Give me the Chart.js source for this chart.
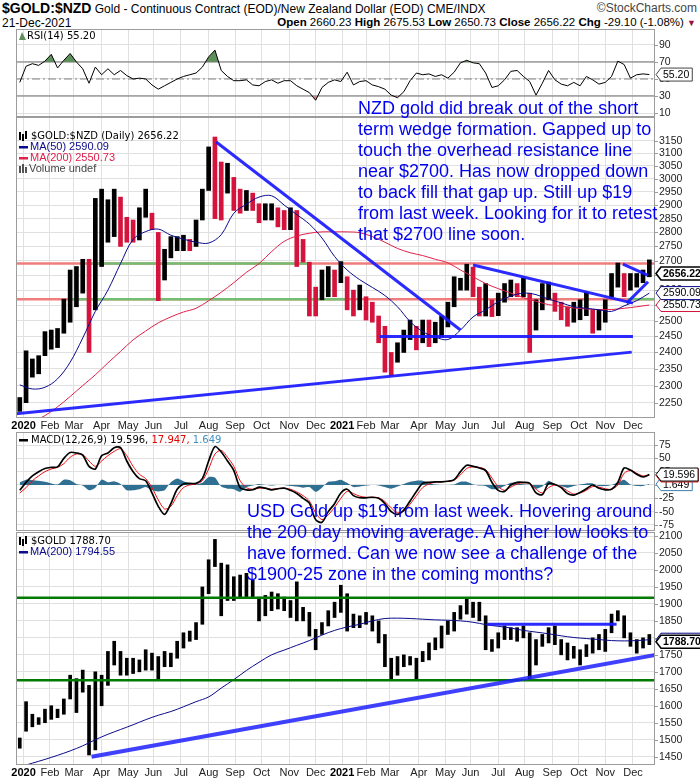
<!DOCTYPE html>
<html>
<head>
<meta charset="utf-8">
<script src="https://cdn.jsdelivr.net/npm/chart.js@4.4.1/dist/chart.umd.min.js"></script>
<style>
  body { margin: 0; background: #fff; }
  #page { position: relative; width: 700px; height: 780px; overflow: hidden; font-family: "Liberation Sans", Arial, sans-serif; }
  .panel { position: absolute; left: 0; width: 700px; }
  .hdr { position: absolute; white-space: nowrap; font-size: 12px; color: #000; }
  .note { position: absolute; white-space: nowrap; color: #0000f0; font-size: 18px; line-height: 21px; }
</style>
</head>
<body>
<div id="page">
  <div class="hdr" style="left:2px;top:0px;"><b style="font-size:14px">$GOLD:$NZD</b> Gold - Continuous Contract (EOD)/New Zealand Dollar (EOD) CME/INDX</div>
  <div class="hdr" style="right:3px;top:1px;color:#444;">&copy;StockCharts.com</div>
  <div class="hdr" style="left:2px;top:16px;">21-Dec-2021</div>
  <div class="hdr" style="right:4px;top:16px;font-size:11.5px;"><b>Open</b> 2660.23 <b>High</b> 2675.53 <b>Low</b> 2650.73 <b>Close</b> 2656.22 <b>Chg</b> -29.10 (-1.08%) <span style="color:#a0103a;font-size:9px">&#9660;</span></div>

  <div class="panel" style="top:29px;height:88px;"><canvas id="rsiChart"></canvas></div>
  <div class="panel" style="top:117px;height:315px;"><canvas id="nzdChart"></canvas></div>
  <div class="panel" style="top:432px;height:99px;"><canvas id="macdChart"></canvas></div>
  <div class="panel" style="top:531px;height:249px;"><canvas id="usdChart"></canvas></div>

  <div class="note" style="left:358px;top:98px;">NZD gold did break out of the short<br>term wedge formation. Gapped up to<br>touch the overhead resistance line<br>near $2700. Has now dropped down<br>to back fill that gap up. Still up $19<br>from last week. Looking for it to retest<br>that $2700 line soon.</div>
  <div class="note" style="left:247px;top:501px;">USD Gold up $19 from last week. Hovering around<br>the 200 day moving average. A higher low looks to<br>have formed. Can we now see a challenge of the<br>$1900-25 zone in the coming months?</div>
</div>

<script>
// x axis is counted in trading days from 2 Jan 2020
const monthDays = [0, 21, 40, 62, 83, 103, 125, 147, 168, 189, 211, 232, 253, 272, 291, 314, 335, 355, 377, 398, 420, 441, 462, 484];
const monthLabels = ['2020', 'Feb', 'Mar', 'Apr', 'May', 'Jun', 'Jul', 'Aug', 'Sep', 'Oct', 'Nov', 'Dec',
                     '2021', 'Feb', 'Mar', 'Apr', 'May', 'Jun', 'Jul', 'Aug', 'Sep', 'Oct', 'Nov', 'Dec'];

// weekly ranges, one entry per week
const nzdLow = [2225, 2250, 2325, 2335, 2390, 2410, 2415, 2460, 2495, 2545,
  2590, 2400, 2535, 2680, 2765, 2785, 2750, 2765, 2765, 2773,
  2855, 2810, 2565, 2634, 2710, 2735, 2735, 2735, 2750, 2845,
  2955, 2850, 2845, 2945, 2880, 2870, 2880, 2880, 2835, 2845,
  2845, 2820, 2810, 2810, 2680, 2695, 2515, 2515, 2568, 2578,
  2578, 2625, 2535, 2515, 2535, 2502, 2495, 2430, 2340, 2330,
  2370, 2400, 2440, 2408, 2430, 2418, 2430, 2448, 2480, 2545,
  2600, 2600, 2578, 2515, 2515, 2513, 2516, 2560, 2578, 2578,
  2578, 2400, 2470, 2535, 2568, 2530, 2503, 2482, 2495, 2503,
  2516, 2460, 2470, 2495, 2578, 2610, 2578, 2600, 2610, 2625,
  2645];
const nzdHigh = [2265, 2405, 2380, 2390, 2465, 2470, 2475, 2570, 2668, 2680,
  2705, 2705, 2925, 2960, 2920, 2960, 2930, 2855, 2845, 2890,
  2960, 2870, 2800, 2740, 2785, 2785, 2790, 2775, 2845, 2960,
  3125, 3165, 3065, 3060, 3005, 2960, 2955, 2945, 2905, 2905,
  2905, 2890, 2880, 2890, 2880, 2775, 2695, 2610, 2668, 2680,
  2668, 2697, 2645, 2600, 2617, 2578, 2560, 2515, 2482, 2400,
  2430, 2470, 2502, 2482, 2502, 2502, 2495, 2515, 2560, 2645,
  2640, 2688, 2678, 2610, 2622, 2568, 2590, 2622, 2634, 2622,
  2640, 2590, 2568, 2622, 2627, 2590, 2560, 2545, 2560, 2568,
  2593, 2535, 2535, 2568, 2656, 2692, 2656, 2656, 2656, 2668,
  2703];

const usdLow = [1475, 1525, 1538, 1545, 1550, 1560, 1565, 1575, 1620, 1580,
  1640, 1455, 1470, 1600, 1660, 1720, 1690, 1690, 1695, 1700,
  1705, 1705, 1675, 1715, 1715, 1740, 1770, 1790, 1795, 1840,
  1930, 2010, 1865, 1910, 1910, 1920, 1920, 1920, 1850, 1865,
  1880, 1885, 1880, 1860, 1850, 1850, 1805, 1765, 1810, 1835,
  1860, 1875, 1820, 1830, 1830, 1840, 1820, 1785, 1715, 1675,
  1690, 1715, 1720, 1676, 1730, 1735, 1765, 1770, 1810, 1820,
  1855, 1870, 1860, 1850, 1765, 1760, 1770, 1795, 1795, 1790,
  1800, 1680, 1720, 1775, 1785, 1780, 1750, 1735, 1740, 1720,
  1745, 1755, 1765, 1760, 1815, 1850, 1800, 1775, 1755, 1770,
  1780];
const usdHigh = [1505, 1612, 1575, 1565, 1590, 1600, 1590, 1620, 1690, 1680,
  1705, 1660, 1700, 1690, 1760, 1790, 1760, 1740, 1740, 1735,
  1765, 1755, 1745, 1760, 1755, 1790, 1815, 1820, 1845, 1950,
  2030, 2090, 2020, 2015, 1980, 1985, 1990, 1970, 1920, 1925,
  1935, 1930, 1920, 1910, 1965, 1890, 1875, 1825, 1845, 1880,
  1905, 1955, 1930, 1870, 1865, 1875, 1865, 1850, 1810, 1740,
  1745, 1750, 1745, 1740, 1760, 1785, 1800, 1835, 1850, 1875,
  1895, 1915, 1905, 1905, 1865, 1795, 1815, 1835, 1830, 1830,
  1835, 1815, 1795, 1810, 1830, 1835, 1795, 1785, 1775, 1765,
  1780, 1800, 1810, 1825, 1870, 1880, 1865, 1815, 1795, 1800,
  1810];

// moving averages, one entry every two weeks
const nzdMa50 = [2302, 2290, 2295, 2320, 2370, 2445, 2530, 2600, 2690, 2775,
  2803, 2812, 2790, 2776, 2765, 2762, 2792, 2870, 2903, 2930,
  2935, 2900, 2865, 2830, 2780, 2715, 2668, 2635, 2609, 2582,
  2545, 2497, 2465, 2448, 2440, 2470, 2512, 2535, 2562, 2580,
  2590, 2585, 2570, 2558, 2545, 2540, 2535, 2530, 2548, 2565,
  2590.09];
const nzdMa200 = [2185, 2197, 2213, 2238, 2268, 2300, 2332, 2368, 2403, 2439,
  2467, 2493, 2512, 2528, 2540, 2565, 2593, 2625, 2660, 2690,
  2732, 2768, 2787, 2797, 2802, 2802, 2802, 2799, 2785, 2765,
  2743, 2728, 2718, 2705, 2693, 2668, 2645, 2622, 2605, 2590,
  2575, 2563, 2552, 2547, 2541, 2538, 2536, 2536, 2540, 2545,
  2550.73];
const usdMa200 = [1420, 1431, 1442, 1454, 1467, 1482, 1500, 1516, 1530, 1544,
  1559, 1572, 1583, 1597, 1612, 1626, 1652, 1677, 1704, 1728,
  1750, 1764, 1778, 1792, 1808, 1822, 1832, 1840, 1850, 1857,
  1858, 1857, 1855, 1853, 1852, 1850, 1846, 1839, 1834, 1829,
  1822, 1817, 1812, 1806, 1801, 1798, 1795, 1792, 1791, 1792,
  1794.55];

// weekly indicator readings
const rsiValues = [46, 65, 68, 66, 71, 79, 63, 72, 80, 70,
  62, 45, 64, 55, 62, 55, 60, 54, 50, 51,
  50, 43, 38, 42, 46, 50, 53, 55, 57, 64,
  76, 84, 60, 53, 48, 48, 49, 43, 42, 47,
  49, 45, 48, 48, 42, 38, 34, 25, 40, 46,
  49, 47, 58, 43, 47, 48, 43, 41, 38, 31,
  28, 35, 48, 57, 55, 56, 53, 55, 51, 58,
  69, 72, 69, 68, 57, 40, 42, 49, 59, 60,
  53, 47, 31, 45, 60, 49, 44, 42, 46, 42,
  53, 49, 44, 46, 53, 71, 67, 51, 55, 56,
  55.2];
const macdValues = [-10, 5, 17, 25, 31, 33, 34, 50, 61, 60,
  56, 35, 30, 55, 60, 70, 70, 45, 25, 12,
  8, -15, -40, -55, -35, -8, 2, 3, 3, 12,
  45, 72, 62, 45, 27, -5, -9, -9, -4, -6,
  -9, -7, -6, -10, -16, -25, -34, -65, -70, -50,
  -35, -15, -8, -20, -24, -24, -23, -25, -35, -50,
  -55, -47, -30, -12, 3, 5, 6, 6, 7, 10,
  25, 37, 35, 32, 27, 5, -10, -12, 0, 5,
  5, 3, -15, -18, 3, 1, -5, -16, -19, -14,
  -7, 0, -6, -9, -8, 5, 32, 28, 20, 15,
  19.596];
const signalValues = [-15, -5, 8, 17, 25, 30, 33, 40, 52, 58,
  57, 45, 35, 45, 55, 63, 68, 55, 35, 20,
  12, -5, -28, -45, -40, -20, -5, 0, 2, 8,
  30, 58, 65, 52, 35, 8, -5, -8, -6, -6,
  -8, -7, -6, -8, -13, -20, -30, -52, -65, -56,
  -42, -25, -12, -16, -21, -23, -23, -24, -31, -43,
  -52, -49, -36, -20, -5, 2, 5, 6, 7, 9,
  19, 31, 34, 33, 29, 13, -3, -10, -4, 2,
  4, 3, -8, -15, -5, 0, -3, -11, -17, -15,
  -10, -3, -4, -7, -8, 0, 22, 27, 22, 17,
  17.947];
const histValues = [5, 10, 9, 8, 6, 3, 1, 10, 9, 2,
  -1, -10, -5, 10, 5, 7, 2, -10, -10, -8,
  -4, -10, -12, -10, 5, 12, 7, 3, 1, 4,
  15, 14, -3, -7, -8, -13, -4, -1, 2, 0,
  -1, 0, 0, -2, -3, -5, -4, -13, -5, 6,
  7, 10, 4, -4, -3, -1, 0, -1, -4, -7,
  -3, 2, 6, 8, 8, 3, 1, 0, 0, 1,
  6, 6, 1, -1, -2, -8, -7, -2, 4, 3,
  1, 0, -7, -3, 8, 1, -2, -5, -2, 1,
  3, 3, -2, -2, 0, 5, 10, 1, -2, -2,
  1.649];

// drawn trend lines and levels: [trading day, price]
const nzdDownTrend = [[153, 3145], [347, 2470]];
const nzdWedgeTop = [[357, 2685], [484, 2557]];
const nzdSupport = [[283, 2450], [484, 2450]];
const nzdUpTrend = [[-6, 2218], [483, 2401]];
const nzdFlagTop = [[476, 2688], [496, 2650]];
const nzdFlagBottom = [[479, 2557], [496, 2628]];
const nzdLevels = [2690, 2570];
const usdUpTrend = [[54, 1450], [502, 1750]];
const usdRange = [[368, 1840], [471, 1840]];
const usdLevels = [1918, 1675];

const rsiTicks = [10, 30, 50, 70, 90];
const nzdTicks = [2250, 2300, 2350, 2400, 2450, 2500, 2550, 2600, 2650, 2700, 2750, 2800, 2850, 2900, 2950, 3000, 3050, 3100, 3150];
const macdTicks = [-75, -50, -25, 0, 25, 50, 75];
const usdTicks = [1450, 1500, 1550, 1600, 1650, 1700, 1750, 1800, 1850, 1900, 1950, 2000, 2050, 2100];

const xMin = -6, xMax = 501.5;
const weekDay = i => 5 * i - 3;
const maDay = k => 10 * k - 3;
const pts = (vals, dayOf) => vals.map((v, i) => ({ x: dayOf(i), y: v }));
const seg = pairs => pairs.map(([x, y]) => ({ x, y }));
const level = (v, from, to) => [{ x: from, y: v }, { x: to, y: v }];

const line = (data, color, width, order, extra) => Object.assign({
  type: 'line', data, borderColor: color, borderWidth: width, pointRadius: 0,
  fill: false, tension: 0, order
}, extra || {});

const RED = '#d4143c', NAVY = '#0a0a8c', BLUE = 'rgba(25,25,255,0.92)', GRID = '#e0e0e0';

function xScale() {
  return {
    type: 'linear', min: xMin, max: xMax, offset: false,
    afterBuildTicks: s => { s.ticks = monthDays.map(v => ({ value: v })); },
    ticks: { display: false },
    grid: { color: GRID, drawTicks: false, offset: false },
    border: { display: false },
    afterFit: s => { s.height = 0; }
  };
}

function yScale(type, min, max, ticks) {
  return {
    type, position: 'right', min, max,
    afterBuildTicks: s => { s.ticks = ticks.map(v => ({ value: v })); },
    ticks: { display: false },
    grid: { color: GRID, drawTicks: false },
    border: { display: false },
    afterFit: s => { s.width = 45; }
  };
}

function drawTag(ctx, x, y, t) {
  ctx.font = (t.bold ? 'bold ' : '') + '10.5px "Liberation Sans", Arial, sans-serif';
  const w = ctx.measureText(t.text).width + 5;
  ctx.beginPath();
  ctx.moveTo(x + 1, y);
  ctx.lineTo(x + 6, y - 6.5);
  ctx.lineTo(x + 6 + w, y - 6.5);
  ctx.lineTo(x + 6 + w, y + 6.5);
  ctx.lineTo(x + 6, y + 6.5);
  ctx.closePath();
  ctx.fillStyle = '#fff';
  ctx.fill();
  ctx.lineWidth = t.bold ? 1.6 : 1;
  ctx.strokeStyle = t.color;
  ctx.stroke();
  ctx.fillStyle = '#000';
  ctx.textAlign = 'left';
  ctx.textBaseline = 'middle';
  ctx.fillText(t.text, x + 8, y + 0.5);
}

function panelPlugin(cfg) {
  return {
    id: 'panel',
    afterDraw(chart) {
      const { ctx, chartArea: a, scales } = chart;
      ctx.save();
      ctx.strokeStyle = '#9c9c9c';
      ctx.lineWidth = 1;
      ctx.strokeRect(a.left + 0.5, a.top + 0.5, a.right - a.left - 1, a.bottom - a.top - 1);

      ctx.font = '10.5px "Liberation Sans", Arial, sans-serif';
      ctx.fillStyle = '#222';
      ctx.textAlign = 'left';
      ctx.textBaseline = 'middle';
      cfg.yTicks.forEach(v => {
        const y = Math.round(scales.y.getPixelForValue(v)) + 0.5;
        ctx.beginPath();
        ctx.moveTo(a.right, y);
        ctx.lineTo(a.right + 3, y);
        ctx.stroke();
        ctx.fillText(String(v), a.right + 4, y);
      });

      if (cfg.monthAxis) {
        ctx.textAlign = 'center';
        monthDays.forEach((d, i) => {
          const isYear = monthLabels[i].length === 4;
          ctx.font = (isYear ? 'bold ' : '') + '11px "Liberation Sans", Arial, sans-serif';
          ctx.fillStyle = isYear ? '#000' : '#222';
          ctx.fillText(monthLabels[i], scales.x.getPixelForValue(d), a.bottom + 8);
        });
      }

      cfg.tags.forEach(t => drawTag(ctx, a.right, scales.y.getPixelForValue(t.value), t));
      cfg.legend(ctx, a);
      ctx.restore();
    }
  };
}

function makeChart(id, cfg) {
  return new Chart(document.getElementById(id), {
    type: 'bar',
    data: { datasets: cfg.datasets },
    options: {
      responsive: true, maintainAspectRatio: false, animation: false, events: [],
      layout: { padding: { left: 16, right: 0, top: cfg.padTop || 0, bottom: cfg.padBottom || 0 } },
      plugins: { legend: { display: false }, tooltip: { enabled: false } },
      scales: { x: xScale(), y: yScale(cfg.yType, cfg.yMin, cfg.yMax, cfg.yTicks) }
    },
    plugins: [panelPlugin(cfg)]
  });
}

function legendText(ctx, parts, x, y, font) {
  ctx.font = font;
  ctx.textAlign = 'left';
  ctx.textBaseline = 'middle';
  parts.forEach(([text, color]) => {
    ctx.fillStyle = color;
    ctx.fillText(text, x, y);
    x += ctx.measureText(text).width;
  });
}

function legendDash(ctx, x, y, color) {
  ctx.fillStyle = color;
  ctx.fillRect(x, y - 1, 9, 2.5);
}

function candleIcon(ctx, x, y) {
  ctx.fillStyle = '#000';
  ctx.fillRect(x, y - 4, 2, 8);
  ctx.fillRect(x + 3, y - 2, 2, 7);
  ctx.fillRect(x + 6, y - 5, 2, 8);
}

const SANS = '"DejaVu Sans", sans-serif';
const LIB = '"Liberation Sans", Arial, sans-serif';

// ---------- RSI ----------
const rsiPts = pts(rsiValues, weekDay);
makeChart('rsiChart', {
  yType: 'linear', yMin: 5.3, yMax: 108.8, yTicks: rsiTicks,
  tags: [{ value: 55.2, text: '55.20', color: '#444' }],
  datasets: [
    line(rsiPts, '#000', 1, 0),
    line(level(70, xMin, xMax), '#707070', 1.2, 3),
    line(level(30, xMin, xMax), '#707070', 1.2, 3),
    line(level(50, xMin, xMax), '#808080', 1, 3, { borderDash: [8, 3, 2, 3] }),
    line(rsiPts, 'rgba(0,0,0,0)', 0, 2, { fill: { target: { value: 70 }, above: '#5f8f5a', below: 'rgba(0,0,0,0)' } }),
    line(rsiPts, 'rgba(0,0,0,0)', 0, 2, { fill: { target: { value: 30 }, above: 'rgba(0,0,0,0)', below: '#c58585' } })
  ],
  legend(ctx, a) {
    ctx.fillStyle = '#5f8f5a';
    ctx.beginPath();
    ctx.moveTo(19, a.top + 11); ctx.lineTo(22, a.top + 3); ctx.lineTo(26, a.top + 11);
    ctx.closePath(); ctx.fill();
    legendText(ctx, [['RSI(14) 55.20', '#000']], 27, a.top + 7, '10px ' + SANS);
  }
});

// ---------- NZD price ----------
const nzdColors = nzdLow.map((lo, i) => {
  if (i === 0) return '#000';
  const mid = (lo + nzdHigh[i]) / 2;
  const prev = (nzdLow[i - 1] + nzdHigh[i - 1]) / 2;
  return mid >= prev ? '#000' : RED;
});
makeChart('nzdChart', {
  yType: 'logarithmic', yMin: 2206.2, yMax: 3247.4, yTicks: nzdTicks, padBottom: 14, monthAxis: true,
  tags: [
    { value: 2550.73, text: '2550.73', color: RED },
    { value: 2590.09, text: '2590.09', color: NAVY },
    { value: 2656.22, text: '2656.22', color: '#000', bold: true }
  ],
  datasets: [
    line(seg(nzdDownTrend), BLUE, 3, 0),
    line(seg(nzdWedgeTop), BLUE, 3, 0),
    line(seg(nzdSupport), BLUE, 3, 0),
    line(seg(nzdUpTrend), BLUE, 3, 0),
    line(seg(nzdFlagTop), BLUE, 3, 0),
    line(seg(nzdFlagBottom), BLUE, 3, 0),
    line(pts(nzdMa50, maDay), NAVY, 1, 1, { tension: 0.35 }),
    line(pts(nzdMa200, maDay), '#e0204a', 1, 1, { tension: 0.35 }),
    {
      type: 'bar', order: 2, barThickness: 4, borderWidth: 0, backgroundColor: nzdColors,
      data: nzdLow.map((lo, i) => ({ x: weekDay(i), y: [lo, nzdHigh[i]] }))
    },
    line(level(nzdLevels[0], 52, 227), '#72bf72', 2.5, 3),
    line(level(nzdLevels[1], 35, 257), '#72bf72', 2.5, 3),
    line(level(nzdLevels[1], 480, xMax), '#72bf72', 2.5, 3),
    line(level(nzdLevels[0], xMin, xMax), '#f07c7c', 2.5, 4),
    line(level(nzdLevels[1], xMin, xMax), '#f07c7c', 2.5, 4)
  ],
  legend(ctx, a) {
    candleIcon(ctx, 19, a.top + 19);
    legendText(ctx, [['$GOLD:$NZD (Daily) 2656.22', '#000']], 31, a.top + 19, '10px ' + SANS);
    legendDash(ctx, 19, a.top + 30, NAVY);
    legendText(ctx, [['MA(50) 2590.09', NAVY]], 30, a.top + 30, '11px ' + LIB);
    legendDash(ctx, 19, a.top + 41, '#e0204a');
    legendText(ctx, [['MA(200) 2550.73', '#e0204a']], 30, a.top + 41, '11px ' + LIB);
    ctx.fillStyle = '#555';
    ctx.fillRect(19, a.top + 49, 2, 7); ctx.fillRect(22, a.top + 47, 2, 9); ctx.fillRect(25, a.top + 50, 2, 6);
    legendText(ctx, [['Volume undef', '#444']], 29, a.top + 52, '11px ' + LIB);
  }
});

// ---------- MACD ----------
makeChart('macdChart', {
  yType: 'linear', yMin: -86.3, yMax: 99.4, yTicks: macdTicks,
  tags: [
    { value: 1.649, text: '1.649', color: '#3f7fb0' },
    { value: 17.947, text: '17.947', color: '#e00000' },
    { value: 19.596, text: '19.596', color: '#000' }
  ],
  datasets: [
    line(pts(macdValues, weekDay), '#000', 1.7, 0, { tension: 0.3 }),
    line(pts(signalValues, weekDay), '#f01010', 1, 1, { tension: 0.3 }),
    line(pts(histValues, weekDay), 'rgba(0,0,0,0)', 0, 2, { fill: 'origin', backgroundColor: '#2e6f92', tension: 0.2 })
  ],
  legend(ctx, a) {
    legendDash(ctx, 19, a.top + 8, '#000');
    legendText(ctx, [['MACD(12,26,9) 19.596, ', '#000'], ['17.947, ', '#e00000'], ['1.649', '#3f8fc0']], 31, a.top + 8, '10px ' + SANS);
  }
});

// ---------- USD gold ----------
makeChart('usdChart', {
  yType: 'linear', yMin: 1425.5, yMax: 2111.8, yTicks: usdTicks, padTop: 1, padBottom: 15, monthAxis: true,
  tags: [
    { value: 1794.55, text: '1794.55', color: NAVY },
    { value: 1788.70, text: '1788.70', color: '#000', bold: true }
  ],
  datasets: [
    line(seg(usdUpTrend), 'rgba(30,30,255,0.85)', 4, 0),
    line(seg(usdRange), BLUE, 3, 0),
    line(level(usdLevels[0], xMin, xMax), '#007a00', 2.5, 1),
    line(level(usdLevels[1], xMin, xMax), '#007a00', 2.5, 1),
    line(pts(usdMa200, maDay), NAVY, 1, 2, { tension: 0.35 }),
    {
      type: 'bar', order: 3, barThickness: 3, borderWidth: 0, backgroundColor: '#000',
      data: usdLow.map((lo, i) => ({ x: weekDay(i), y: [lo, usdHigh[i]] }))
    }
  ],
  legend(ctx, a) {
    candleIcon(ctx, 19, a.top + 9);
    legendText(ctx, [['$GOLD 1788.70', '#000']], 31, a.top + 9, '10px ' + SANS);
    legendDash(ctx, 19, a.top + 20, NAVY);
    legendText(ctx, [['MA(200) 1794.55', NAVY]], 30, a.top + 20, '11px ' + LIB);
  }
});
</script>
</body>
</html>
